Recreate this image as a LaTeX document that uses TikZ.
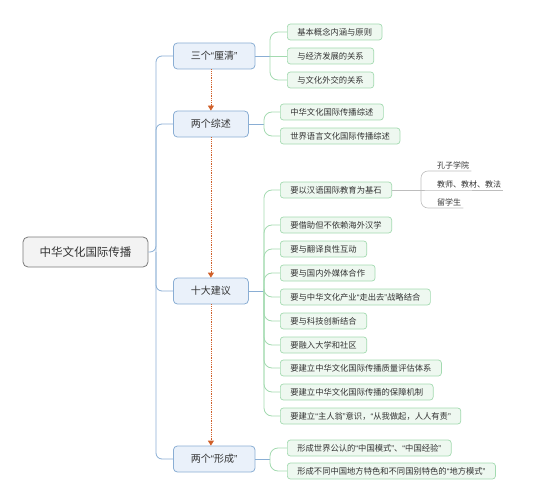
\documentclass[tikz,border=0pt]{standalone}
\usepackage{fontspec}
\setmainfont{Noto Sans CJK SC}
\newfontfamily\quotefont{Liberation Sans}
\newcommand{\oq}{{\quotefont “}}
\newcommand{\cq}{{\quotefont ”}}
\usetikzlibrary{arrows.meta}
\definecolor{txt}{HTML}{333333}
\definecolor{rootline}{HTML}{7A7A7A}
\definecolor{rootfill}{HTML}{F3F3F3}
\definecolor{topicline}{HTML}{8AAED4}
\definecolor{topicfill}{HTML}{EAF1FA}
\definecolor{leafline}{HTML}{A3DAB0}
\definecolor{leaffill}{HTML}{EEF8F0}
\definecolor{subline}{HTML}{BDBDBD}
\definecolor{flowcol}{HTML}{D0602A}
\tikzstyle{root} = [rectangle, rounded corners=5pt, draw=rootline, fill=rootfill, line width=0.8pt, minimum height=30pt, minimum width=125pt, text=txt, font=\fontsize{11.5}{13}\selectfont]
\tikzstyle{topic} = [rectangle, rounded corners=4pt, draw=topicline, fill=topicfill, line width=0.8pt, minimum height=26pt, inner xsep=17.5pt, text=txt, font=\fontsize{10}{12}\selectfont]
\tikzstyle{leaf} = [rectangle, rounded corners=3pt, draw=leafline, fill=leaffill, line width=0.7pt, minimum height=16pt, inner ysep=0pt, inner xsep=10pt, text=txt, font=\fontsize{8.3}{10}\selectfont]
\tikzstyle{twig} = [inner xsep=2pt, inner ysep=1.5pt, text=txt, font=\fontsize{8}{9}\selectfont]
\tikzstyle{trunk} = [draw=topicline, line width=0.8pt, rounded corners=6pt]
\tikzstyle{branch} = [draw=leafline, line width=0.8pt, rounded corners=8pt]
\tikzstyle{sub} = [draw=subline, line width=0.6pt, rounded corners=7pt]
\tikzstyle{flow} = [draw=flowcol, densely dotted, line width=0.8pt, -{Triangle[width=6pt,length=5pt]}]

\begin{document}
\begin{tikzpicture}[x=1pt,y=-1pt]
  \useasboundingbox (0,0) rectangle (536,503);

  \node[root] (root) at (85.5,252) {中华文化国际传播};

  \node[topic, anchor=west] (liqing) at (173,56) {三个\oq 厘清\cq};
  \node[topic, anchor=west] (zongshu) at (173,124) {两个综述};
  \node[topic, anchor=west] (jianyi) at (173,291) {十大建议};
  \node[topic, anchor=west] (xingcheng) at (173,459) {两个\oq 形成\cq};

  \coordinate (trunk) at (156,252);
  \draw[trunk] (root.east) -- (trunk) |- (liqing.west);
  \draw[trunk] (trunk) |- (zongshu.west);
  \draw[trunk] (trunk) |- (jianyi.west);
  \draw[trunk] (trunk) |- (xingcheng.west);

  \draw[flow] (zongshu.north |- liqing.south) -- (zongshu.north);
  \draw[flow] (zongshu.south) -- (zongshu.south |- jianyi.north);
  \draw[flow] (jianyi.south) -- (jianyi.south |- xingcheng.north);

  % 三个厘清
  \node[leaf, anchor=west] (lq1) at (287,32) {基本概念内涵与原则};
  \node[leaf, anchor=west] (lq2) at (287,56) {与经济发展的关系};
  \node[leaf, anchor=west] (lq3) at (287,80) {与文化外交的关系};
  \coordinate (blq) at (270,56);
  \draw[trunk] (liqing.east) -- (blq);
  \draw[branch] (blq) |- (lq1.west);
  \draw[branch] (blq) -- (lq2.west);
  \draw[branch] (blq) |- (lq3.west);

  % 两个综述
  \node[leaf, anchor=west] (zs1) at (280,112) {中华文化国际传播综述};
  \node[leaf, anchor=west] (zs2) at (280,136) {世界语言文化国际传播综述};
  \coordinate (bzs) at (264,124);
  \draw[trunk] (zongshu.east) -- (bzs);
  \draw[branch] (bzs) |- (zs1.west);
  \draw[branch] (bzs) |- (zs2.west);

  % 十大建议
  \node[leaf, anchor=west] (jy1) at (280,190) {要以汉语国际教育为基石};
  \node[leaf, anchor=west] (jy2) at (280,225) {要借助但不依赖海外汉学};
  \node[leaf, anchor=west] (jy3) at (280,249) {要与翻译良性互动};
  \node[leaf, anchor=west] (jy4) at (280,273) {要与国内外媒体合作};
  \node[leaf, anchor=west] (jy5) at (280,297) {要与中华文化产业\oq 走出去\cq 战略结合};
  \node[leaf, anchor=west] (jy6) at (280,321) {要与科技创新结合};
  \node[leaf, anchor=west] (jy7) at (280,345) {要融入大学和社区};
  \node[leaf, anchor=west] (jy8) at (280,368) {要建立中华文化国际传播质量评估体系};
  \node[leaf, anchor=west] (jy9) at (280,392) {要建立中华文化国际传播的保障机制};
  \node[leaf, anchor=west] (jy10) at (280,416) {要建立\oq 主人翁\cq 意识，\oq 从我做起，人人有责\cq};
  \coordinate (bjy) at (264,291);
  \draw[trunk] (jianyi.east) -- (bjy);
  \draw[branch] (bjy) |- (jy1.west);
  \draw[branch] (bjy) |- (jy2.west);
  \draw[branch] (bjy) |- (jy3.west);
  \draw[branch] (bjy) |- (jy4.west);
  \draw[branch] (bjy) |- (jy5.west);
  \draw[branch] (bjy) |- (jy6.west);
  \draw[branch] (bjy) |- (jy7.west);
  \draw[branch] (bjy) |- (jy8.west);
  \draw[branch] (bjy) |- (jy9.west);
  \draw[branch] (bjy) |- (jy10.west);

  % 基石
  \node[twig, anchor=south west] (js1) at (435,171) {孔子学院};
  \node[twig, anchor=south west] (js2) at (435,190) {教师、教材、教法};
  \node[twig, anchor=south west] (js3) at (435,208) {留学生};
  \coordinate (bjs) at (421,190);
  \draw[sub] (jy1.east) -- (bjs);
  \draw[sub] (bjs) |- (js1.south west) -- (js1.south east);
  \draw[sub] (bjs) -- (js2.south west) -- (js2.south east);
  \draw[sub] (bjs) |- (js3.south west) -- (js3.south east);

  % 两个形成
  \node[leaf, anchor=west] (xc1) at (287,448) {形成世界公认的\oq 中国模式\cq、\oq 中国经验\cq};
  \node[leaf, anchor=west] (xc2) at (287,471) {形成不同中国地方特色和不同国别特色的\oq 地方模式\cq};
  \coordinate (bxc) at (270,459);
  \draw[trunk] (xingcheng.east) -- (bxc);
  \draw[branch] (bxc) |- (xc1.west);
  \draw[branch] (bxc) |- (xc2.west);
\end{tikzpicture}
\end{document}
